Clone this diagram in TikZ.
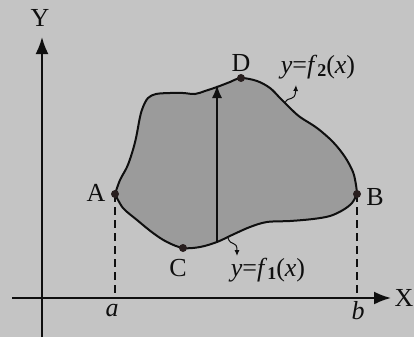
\documentclass[tikz,border=0pt]{standalone}
\usepackage{fontspec}
\setmainfont{Liberation Serif}
\usetikzlibrary{arrows.meta}
\definecolor{bg}{RGB}{196,196,196}
\definecolor{reg}{RGB}{155,155,155}
\definecolor{ink}{RGB}{15,15,15}
\definecolor{dotc}{RGB}{40,30,30}
\newcommand{\sub}[1]{\raisebox{-0.3ex}{\fontsize{18}{18}\selectfont\textbf{#1}}}
\begin{document}
\begin{tikzpicture}[x=1pt,y=-1pt,
  lbl/.style={font=\fontsize{26}{26}\selectfont, text=ink, inner sep=0pt},
  axisline/.style={draw=ink, line width=2pt, -{Latex[length=17pt,width=13pt]}},
  dashline/.style={draw=ink, line width=2pt, dash pattern=on 8pt off 5pt},
  curveline/.style={draw=ink, line width=2pt, line join=round},
  smallarrow/.style={draw=ink, line width=1pt, -{Latex[length=6pt,width=5pt]}},
  ptdot/.style={fill=dotc}]
\fill[bg] (0,0) rectangle (414,337);
\useasboundingbox (0,0) rectangle (414,337);

% region
\filldraw[fill=reg, curveline]
  plot[smooth, tension=0.55] coordinates {(115,194) (120,180) (127,167) (132,153) (136,138) (140,117) (143,107) (148,98) (156,94) (170,93) (183,93) (195,94) (205,91) (217,87) (230,82) (241,78) (257,81) (270,88) (280,98) (290,108) (300,117) (317,128) (333,142) (345,157) (353,172) (356,185) (357,194)}
  -- plot[smooth, tension=0.55] coordinates {(357,194) (352,203) (343,210) (330,216) (313,219) (290,221) (267,222) (250,227) (232,235) (217,242) (200,247) (183,248) (167,242) (153,233) (137,220) (123,208) (115,194)}
  -- cycle;

% points
\coordinate (A) at (115,194);
\coordinate (B) at (357,194);
\coordinate (C) at (183,248);
\coordinate (D) at (241,78);
\coordinate (xs) at (12,298);
\coordinate (xe) at (391,298);
\coordinate (ys) at (42,337);
\coordinate (ye) at (42,37);
\coordinate (a0) at (115,298);
\coordinate (b0) at (357,298);
\coordinate (vs) at (217,242);
\coordinate (ve) at (217,85);

% axes
\draw[axisline] (xs) -- (xe);
\draw[axisline] (ys) -- (ye);

% dashed lines
\draw[dashline] (A) -- (a0);
\draw[dashline] (B) -- (b0);

% vertical arrow
\draw[draw=ink, line width=1.6pt, -{Latex[length=13pt,width=10pt]}] (vs) -- (ve);

% small squiggle arrows
\coordinate (s2) at (285,103);
\coordinate (t2) at (296,85);
\coordinate (s1) at (228,238);
\coordinate (t1) at (237,256);
\draw[smallarrow] (s2) .. controls (288,95) and (295,103) .. (t2);
\draw[smallarrow] (s1) .. controls (231,247) and (237,240) .. (t1);

% dots
\foreach \p in {A,B,C,D} \fill[ptdot] (\p) circle (4pt);

% labels
\node[lbl] (Al) at (96,193) {A};
\node[lbl] (Bl) at (375,197) {B};
\node[lbl] (Cl) at (178,268) {C};
\node[lbl] (Dl) at (241,63) {D};
\node[lbl] (Xl) at (404,298) {X};
\node[lbl] (Yl) at (40,18) {Y};
\node[lbl] (al) at (112,311) {\textit{a}};
\node[lbl] (bl) at (358,311) {\textit{b}};
\node[lbl] (f2) at (318,67) {\textit{y}=\textit{f}\sub{2}(\textit{x})};
\node[lbl] (f1) at (268,270) {\textit{y}=\textit{f}\sub{1}(\textit{x})};
\end{tikzpicture}
\end{document}
